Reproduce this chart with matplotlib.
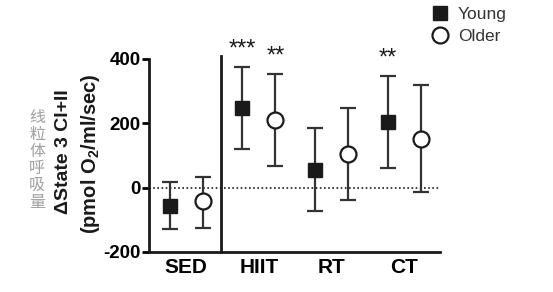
import matplotlib
matplotlib.use("Agg")
import matplotlib.pyplot as plt
from matplotlib.lines import Line2D
import numpy as np

groups = ["SED", "HIIT", "RT", "CT"]
young_mean = [-56, 248, 54, 204]
young_hi = [19, 375, 184, 348]
young_lo = [-130, 121, -73, 61]
older_mean = [-43, 211, 104, 151]
older_hi = [34, 354, 249, 318]
older_lo = [-124, 66, -39, -14]
yticks = [-200, 0, 200, 400]
stars = [("***", 1, "young", 375), ("**", 1, "older", 354), ("**", 3, "young", 348)]

plt.rcParams['font.family'] = ['Liberation Sans', 'DejaVu Sans']
plt.rcParams['mathtext.default'] = 'regular'

W, H = 553, 292
fig = plt.figure(figsize=(W/100, H/100), dpi=100)
ax = fig.add_axes([149/W, 1-252/H, (440-149)/W, (252-59)/H])

x = np.arange(len(groups))
off = 0.226
col = '#1a1a1a'

ye_lo = np.array(young_mean) - np.array(young_lo)
ye_hi = np.array(young_hi) - np.array(young_mean)
oe_lo = np.array(older_mean) - np.array(older_lo)
oe_hi = np.array(older_hi) - np.array(older_mean)

ax.axhline(0, color=col, lw=1.2, ls=(0, (1, 1.5)), zorder=1)

ax.errorbar(x - off, young_mean, yerr=[ye_lo, ye_hi], fmt='s', ms=10.5,
            mfc=col, mec=col, ecolor='#333333', elinewidth=1.6, capsize=6,
            capthick=1.6, zorder=3)
ax.errorbar(x + off, older_mean, yerr=[oe_lo, oe_hi], fmt='o', ms=11.5,
            mfc='white', mec=col, mew=1.6, ecolor='#333333', elinewidth=1.6,
            capsize=6, capthick=1.6, zorder=3)

ax.set_xlim(-0.51, 3.49)
ax.set_ylim(-200, 400)
ax.set_yticks(yticks)
ax.set_yticklabels([str(v) for v in yticks], fontsize=13.5, fontweight='bold')
ax.set_xticks(x)
ax.set_xticklabels(groups, fontsize=15, fontweight='bold')
ax.tick_params(axis='x', length=0, pad=4)
ax.tick_params(axis='y', length=5, width=2, pad=1)
for s in ['top', 'right']:
    ax.spines[s].set_visible(False)
for s in ['left', 'bottom']:
    ax.spines[s].set_linewidth(2)
    ax.spines[s].set_color(col)

# separator line between SED and training groups
ax.plot([0.48, 0.48], [-200, 410], color=col, lw=2, clip_on=False, zorder=2)

for txt, gi, who, top in stars:
    xx = gi - off if who == "young" else gi + off
    ax.text(xx, top + 36, txt, ha='center', va='baseline', fontsize=17,
            color=col, clip_on=False)

fig.text(63/W, 1-152/H, "ΔState 3 CI+II", rotation=90, ha='center', va='center',
         fontsize=14, fontweight='bold', color=col)
fig.text(90/W, 1-154/H, "(pmol O$_2$/ml/sec)", rotation=90, ha='center', va='center',
         fontsize=14.5, fontweight='bold', color=col)
fig.text(37/W, 1-160/H, "\n".join("线粒体呼吸量"), ha='center', va='center',
         fontsize=11.5, color='#a0a0a0', linespacing=1.0,
         family=['Noto Sans CJK SC', 'DejaVu Sans'])

handles = [Line2D([], [], ls='none', marker='s', ms=10.5, mfc=col, mec=col),
           Line2D([], [], ls='none', marker='o', ms=11.5, mfc='white', mec=col, mew=1.6)]
fig.legend(handles, ["Young", "Older"], loc='upper left',
           bbox_to_anchor=(430/W, 1-5/H), frameon=False, borderaxespad=0,
           borderpad=0.1, fontsize=12.5, handletextpad=0.5, labelspacing=0.38,
           handlelength=1.0, labelcolor='#333333')

fig.savefig("out.png", dpi=100)
